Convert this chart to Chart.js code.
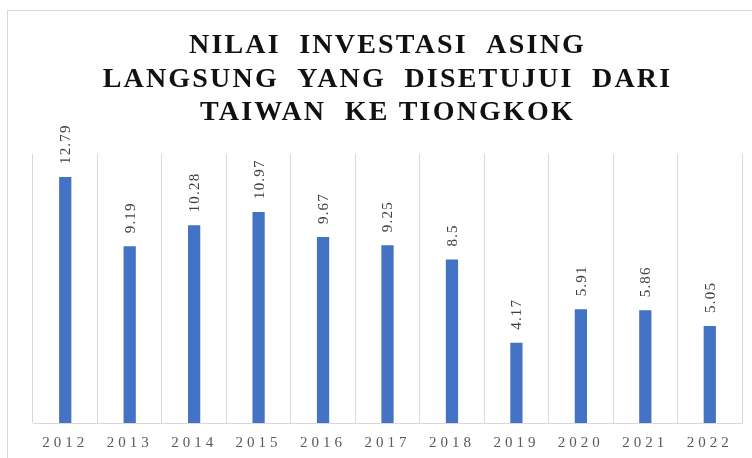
<!DOCTYPE html>
<html>
<head>
<meta charset="utf-8">
<script src="https://cdn.jsdelivr.net/npm/chart.js@4.4.1/dist/chart.umd.min.js"></script>
<style>
  html, body { margin: 0; padding: 0; background: #fff; overflow: hidden; }
  #frame { position: absolute; left: 7px; top: 10px; width: 800px; height: 500px; border: 1px solid #d9d9d9; }
  #wrap { position: absolute; left: 0; top: 0; width: 752px; height: 458px; }
</style>
</head>
<body>
<div id="frame"></div>
<div id="wrap"><canvas id="chart-canvas"></canvas></div>
<script>
const tahun = ['2012', '2013', '2014', '2015', '2016', '2017', '2018', '2019', '2020', '2021', '2022'];
const nilai = [12.79, 9.19, 10.28, 10.97, 9.67, 9.25, 8.5, 4.17, 5.91, 5.86, 5.05];
const judul = ['NILAI  INVESTASI  ASING', 'LANGSUNG  YANG  DISETUJUI  DARI', 'TAIWAN  KE TIONGKOK'];

// spasi huruf: judul 2.2px, label sumbu 4px, label nilai 1.2px
const spasiHuruf = {
  id: 'spasiHuruf',
  beforeDraw(chart) {
    chart.ctx.letterSpacing = '2.2px';
  },
  afterDatasetsDraw(chart) {
    const ctx = chart.ctx;
    const meta = chart.getDatasetMeta(0);
    ctx.save();
    ctx.letterSpacing = '1.2px';
    ctx.font = '15px "Liberation Serif", "Times New Roman", serif';
    ctx.fillStyle = '#404040';
    ctx.textAlign = 'left';
    ctx.textBaseline = 'middle';
    meta.data.forEach((bar, i) => {
      ctx.save();
      ctx.translate(bar.x + 1, bar.y - 13);
      ctx.rotate(-Math.PI / 2);
      ctx.fillText(String(nilai[i]), 0, 0);
      ctx.restore();
    });
    ctx.restore();
    ctx.letterSpacing = '4px';
  },
  afterDraw(chart) {
    chart.ctx.letterSpacing = '0px';
  }
};

const ctx = document.getElementById('chart-canvas').getContext('2d');
new Chart(ctx, {
  type: 'bar',
  data: {
    labels: tahun,
    datasets: [{
      data: nilai,
      backgroundColor: '#4472c4',
      borderWidth: 0,
      categoryPercentage: 1,
      barPercentage: 0.19
    }]
  },
  options: {
    responsive: true,
    maintainAspectRatio: false,
    animation: false,
    layout: { padding: { left: 33, right: 10, top: 0, bottom: -5 } },
    plugins: {
      legend: { display: false },
      tooltip: { enabled: false },
      title: {
        display: true,
        text: judul,
        color: '#111',
        font: { family: '"Liberation Serif", "Times New Roman", serif', size: 28, weight: 'bold', lineHeight: 1.2 },
        padding: { top: 29, bottom: 24 }
      }
    },
    scales: {
      x: {
        grid: { color: '#d9d9d9', lineWidth: 1, drawTicks: false, offset: true },
        border: { color: '#d9d9d9', width: 1 },
        ticks: {
          z: 1,
          color: '#595959',
          padding: 11,
          autoSkip: false,
          maxRotation: 0,
          font: { family: '"Liberation Serif", "Times New Roman", serif', size: 15 }
        }
      },
      y: {
        display: false,
        min: 0,
        max: 14
      }
    }
  },
  plugins: [spasiHuruf]
});
</script>
</body>
</html>
